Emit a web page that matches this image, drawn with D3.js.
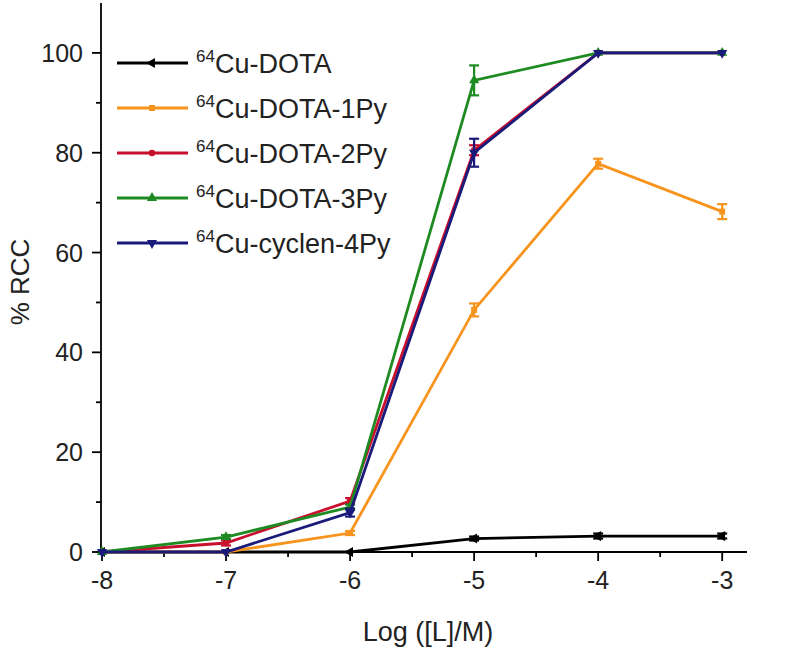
<!DOCTYPE html>
<html><head><meta charset="utf-8">
<script src="https://cdn.jsdelivr.net/npm/d3@7"></script>
<style>body{margin:0;background:#fff;} svg{display:block;}</style>
</head><body>
<svg id="c" width="787" height="650"></svg>
<script>
const xValues = [-8, -7, -6, -5, -4, -3];
const seriesNames = ["Cu-DOTA", "Cu-DOTA-1Py", "Cu-DOTA-2Py", "Cu-DOTA-3Py", "Cu-cyclen-4Py"];
const seriesColors = ["#000000", "#F7941D", "#C8102E", "#1E8B22", "#1A1A7A"];
const valDOTA   = [0, 0, 0, 2.7, 3.2, 3.2];
const valDOTA1  = [0, 0, 3.8, 48.5, 77.8, 68.2];
const valDOTA2  = [0, 1.8, 10.2, 80.5, 100, 100];
const valDOTA3  = [0, 3.0, 9.0, 94.5, 100, 100];
const valCyclen = [0, 0, 7.9, 80, 100, 100];
const errDOTA   = [0, 0, 0, 0.4, 0.5, 0.5];
const errDOTA1  = [0, 0, 0.4, 1.3, 1.0, 1.5];
const errDOTA2  = [0, 0.5, 0.6, 1.0, 0, 0];
const errDOTA3  = [0, 0.4, 0.5, 3.0, 0, 0];
const errCyclen = [0, 0, 0.8, 2.8, 0, 0];
const yTicks = [0, 20, 40, 60, 80, 100];
const xTicks = [-8, -7, -6, -5, -4, -3];

const values = [valDOTA, valDOTA1, valDOTA2, valDOTA3, valCyclen];
const errors = [errDOTA, errDOTA1, errDOTA2, errDOTA3, errCyclen];
const symbolTypes = [d3.symbolTriangle, d3.symbolSquare, d3.symbolCircle, d3.symbolTriangle, d3.symbolTriangle];
const symbolRot = [-90, 0, 0, 0, 180];
const symbolSizes = [45, 36, 34, 45, 45];

const svg = d3.select("#c");
const x = d3.scaleLinear().domain([-8, -2.8]).range([102, 747]);
const y = d3.scaleLinear().domain([0, 110]).range([552, 3]);
const font = "'Liberation Sans', Arial, sans-serif";

// axes
const xAxis = svg.append("g").attr("transform", "translate(0,552)");
xAxis.append("line").attr("x1", x(-8)).attr("x2", x(-2.8)).attr("stroke", "#000").attr("stroke-width", 1.8);
d3.range(-8, -2.9, 0.5).forEach(v => {
  const major = Math.abs(v - Math.round(v)) < 1e-6;
  xAxis.append("line").attr("x1", x(v)).attr("x2", x(v)).attr("y1", 0).attr("y2", major ? 9 : 5)
    .attr("stroke", "#000").attr("stroke-width", 1.8);
});
xTicks.forEach(v => {
  xAxis.append("text").attr("x", x(v)).attr("y", 37).attr("text-anchor", "middle")
    .attr("font-family", font).attr("font-size", 25).attr("fill", "#222").text(v);
});
const yAxis = svg.append("g").attr("transform", "translate(101,0)");
yAxis.append("line").attr("y1", y(0)).attr("y2", y(110)).attr("stroke", "#000").attr("stroke-width", 1.8);
d3.range(0, 110, 10).forEach(v => {
  const major = v % 20 === 0;
  yAxis.append("line").attr("x1", 0).attr("x2", major ? -9 : -5).attr("y1", y(v)).attr("y2", y(v))
    .attr("stroke", "#000").attr("stroke-width", 1.8);
});
yTicks.forEach(v => {
  yAxis.append("text").attr("x", -18).attr("y", y(v)).attr("dy", "0.36em").attr("text-anchor", "end")
    .attr("font-family", font).attr("font-size", 25).attr("fill", "#222").text(v);
});
svg.append("text").attr("transform", "translate(29,282) rotate(-90)").attr("text-anchor", "middle")
  .attr("font-family", font).attr("font-size", 26).attr("fill", "#222").text("% RCC");
svg.append("text").attr("x", 428).attr("y", 641).attr("text-anchor", "middle")
  .attr("font-family", font).attr("font-size", 27).attr("fill", "#222").text("Log ([L]/M)");

// series
const line = d3.line().x(d => x(d[0])).y(d => y(d[1]));
values.forEach((vals, i) => {
  const col = seriesColors[i];
  const pts = xValues.map((xv, j) => [xv, vals[j], errors[i][j]]);
  const g = svg.append("g");
  g.append("path").datum(pts).attr("d", line).attr("fill", "none").attr("stroke", col).attr("stroke-width", 2.8);
  pts.forEach(p => {
    if (p[2] > 0) {
      const y1 = y(p[1] - p[2]), y2 = y(p[1] + p[2]);
      g.append("line").attr("x1", x(p[0])).attr("x2", x(p[0])).attr("y1", y1).attr("y2", y2).attr("stroke", col).attr("stroke-width", 2.2);
      [y1, y2].forEach(yy => g.append("line").attr("x1", x(p[0]) - 5).attr("x2", x(p[0]) + 5).attr("y1", yy).attr("y2", yy).attr("stroke", col).attr("stroke-width", 2.2));
    }
    g.append("path").attr("d", d3.symbol().type(symbolTypes[i]).size(symbolSizes[i])())
      .attr("transform", `translate(${x(p[0])},${y(p[1])}) rotate(${symbolRot[i]})`).attr("fill", col);
  });
});

// legend
seriesNames.forEach((name, i) => {
  const ly = 63 + i * 45;
  const col = seriesColors[i];
  svg.append("line").attr("x1", 117).attr("x2", 188).attr("y1", ly).attr("y2", ly).attr("stroke", col).attr("stroke-width", 2.8);
  svg.append("path").attr("d", d3.symbol().type(symbolTypes[i]).size(symbolSizes[i])())
    .attr("transform", `translate(152,${ly}) rotate(${symbolRot[i]})`).attr("fill", col);
  const t = svg.append("text").attr("x", 196).attr("y", ly + 10).attr("font-family", font).attr("font-size", 27).attr("fill", "#222");
  t.append("tspan").attr("font-size", 17).attr("dy", -11).text("64");
  t.append("tspan").attr("dy", 11).text(name);
});
</script>
</body></html>
